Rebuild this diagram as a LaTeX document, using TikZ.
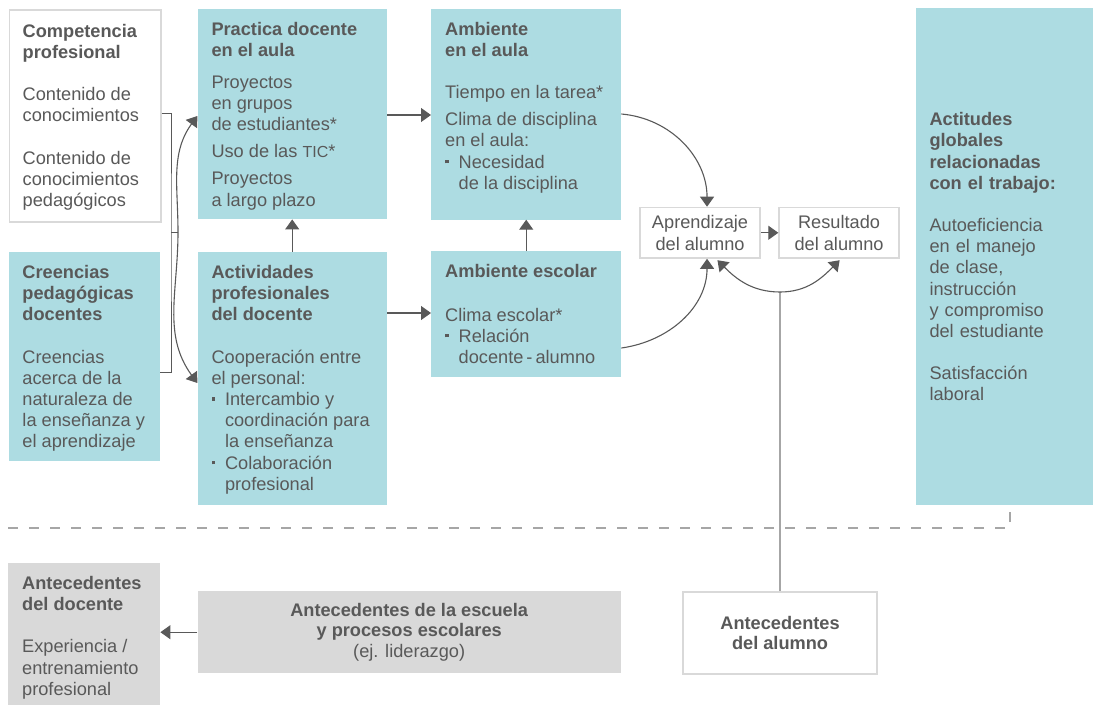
\documentclass[tikz,border=0pt]{standalone}
\usepackage{fontspec}
\setmainfont{Liberation Sans}
\usepackage{tikz}
\usetikzlibrary{arrows.meta,positioning}
\definecolor{tealfill}{HTML}{ADDCE2}
\definecolor{greyfill}{HTML}{D9D9D9}
\definecolor{txtgrey}{HTML}{595959}
\definecolor{linegrey}{HTML}{A6A6A6}
\newcommand{\bul}{\makebox[13.5pt][l]{\rule[4.8pt]{3.6pt}{3.6pt}}}
\newcommand{\ind}{\hspace*{13.5pt}}

\begin{document}
\begin{tikzpicture}[x=1pt,y=1pt,
    >={Triangle[length=10pt,width=14pt]},
    font=\fontsize{18.2}{21.2}\selectfont, text=txtgrey,
    tealbox/.style={fill=tealfill, anchor=north west, inner sep=0pt},
    greybox/.style={fill=greyfill, anchor=north west, inner sep=0pt},
    whitebox/.style={draw=greyfill, line width=1.5pt, fill=white, anchor=north west, inner sep=0pt},
    txt/.style={inner sep=0pt, align=left, below right=13.5pt and 14pt of #1},
    link/.style={draw=txtgrey, line width=1.1pt, ->},
    bracket/.style={draw=txtgrey, line width=1pt},
    pale/.style={draw=linegrey, line width=2pt}]
    \useasboundingbox (0,0) rectangle (1093,-705);

    \node[whitebox, minimum width=151.5pt, minimum height=212pt] (comp) at (8.5,-9) {};
    \node[txt=comp.north west, yshift=-1.5pt] (comp-t) {\textbf{Competencia}\\\textbf{profesional}\\[21pt]Contenido de\\conocimientos\\[21pt]Contenido de\\conocimientos\\pedagógicos};

    \node[tealbox, minimum width=151.7pt, minimum height=209.3pt] (cree) at (8.3,-251.7) {};
    \node[txt=cree.north west] (cree-t) {\textbf{Creencias}\\\textbf{pedagógicas}\\\textbf{docentes}\\[21pt]Creencias\\acerca de la\\naturaleza de\\la enseñanza y\\el aprendizaje};

    \node[tealbox, minimum width=189.4pt, minimum height=210.7pt] (prac) at (197.3,-8.3) {};
    \node[txt=prac.north west] (prac-t) {\textbf{Practica docente}\\\textbf{en el aula}\\[10.5pt]Proyectos\\en grupos\\de estudiantes*\\[6pt]Uso de las {\fontsize{16}{21}\selectfont TIC}*\\[6pt]Proyectos\\a largo plazo};

    \node[tealbox, minimum width=189.4pt, minimum height=253.3pt] (acti) at (197.3,-251.7) {};
    \node[txt=acti.north west] (acti-t) {\textbf{Actividades}\\\textbf{profesionales}\\\textbf{del docente}\\[21pt]Cooperación entre\\el personal:\\\bul Intercambio y\\\ind coordinación para\\\ind la enseñanza\\\bul Colaboración\\\ind profesional};

    \node[tealbox, minimum width=190pt, minimum height=211pt] (aula) at (431,-8.3) {};
    \node[txt=aula.north west] (aula-t) {\textbf{Ambiente}\\\textbf{en el aula}\\[21pt]Tiempo en la tarea*\\[6pt]Clima de disciplina\\en el aula:\\\bul Necesidad\\\ind de la disciplina};

    \node[tealbox, minimum width=190pt, minimum height=125.7pt] (esco) at (431,-251) {};
    \node[txt=esco.north west] (esco-t) {\textbf{Ambiente escolar}\\[22pt]Clima escolar*\\\bul Relación\\\ind docente\,-\,alumno};

    \node[whitebox, minimum width=120pt, minimum height=50.6pt, align=center,
        font=\fontsize{18.2}{21.7}\selectfont] (apre) at (639.3,-206.7) {Aprendizaje\\del alumno};
    \node[whitebox, minimum width=120pt, minimum height=50.6pt, align=center,
        font=\fontsize{18.2}{21.7}\selectfont] (resu) at (778.3,-206.7) {Resultado\\del alumno};

    \node[tealbox, minimum width=177pt, minimum height=497pt, text width=150.4pt,
        inner xsep=13.3pt, align=left] (acgl) at (916,-8) {\textbf{Actitudes}\\\textbf{globales}\\\textbf{relacionadas}\\\textbf{con el trabajo:}\\[21pt]Autoeficiencia\\en el manejo\\de clase,\\instrucción\\y compromiso\\del estudiante\\[21pt]Satisfacción\\laboral};

    \node[greybox, minimum width=152pt, minimum height=142.3pt] (adoc) at (8,-562.7) {};
    \node[txt=adoc.north west] (adoc-t) {\textbf{Antecedentes}\\\textbf{del docente}\\[21pt]Experiencia /\\entrenamiento\\profesional};

    \node[greybox, minimum width=423.4pt, minimum height=82pt, align=center,
        font=\fontsize{18.2}{20.7}\selectfont] (aesc) at (197.3,-591) {\textbf{Antecedentes de la escuela}\\\textbf{y procesos escolares}\\(ej. liderazgo)};
    \node[whitebox, minimum width=194pt, minimum height=82.3pt, align=center,
        font=\fontsize{18.2}{20.7}\selectfont] (alum) at (682.3,-591) {\textbf{Antecedentes}\\\textbf{del alumno}};

    \coordinate (brk) at (171,-232);
    \draw[bracket] (comp.east |- 0,-113) -| (brk) |- (cree.east |- 0,-372);
    \draw[bracket] (brk) -- ++(7,0) coordinate (bow);
    \draw[link] (bow) to[out=90,in=-126] (prac.west |- 0,-116);
    \draw[link] (bow) to[out=-90,in=126] (acti.west |- 0,-383);

    \draw[link] (prac.east |- 0,-115) -- (aula.west |- 0,-115);
    \draw[link] (acti.east |- 0,-313) -- (esco.west |- 0,-313);
    \draw[link] (acti) -- (prac);
    \draw[link] (esco) -- (aula);
    \draw[link] (apre) -- (resu);
    \draw[link] (aula.east |- 0,-114) to[out=-5,in=90] ([xshift=7pt]apre.north);
    \draw[link] (esco.east |- 0,-348) to[out=8,in=-90] ([xshift=7pt]apre.south);

    \coordinate (low) at (alum.north |- 0,-292);
    \draw[pale] (alum.north) -- (low);
    \draw[link, shorten >=2pt] (low) to[out=180,in=-45] ([xshift=16pt]apre.south);
    \draw[link, shorten >=2pt] (low) to[out=0,in=-135] ([xshift=2pt]resu.south);

    \draw[link] (aesc.west) -- (aesc.west -| adoc.east);

    \draw[draw=linegrey, line width=1.5pt, dash pattern=on 10pt off 11pt] (8,-528) -| (1010,-505);
\end{tikzpicture}
\end{document}
